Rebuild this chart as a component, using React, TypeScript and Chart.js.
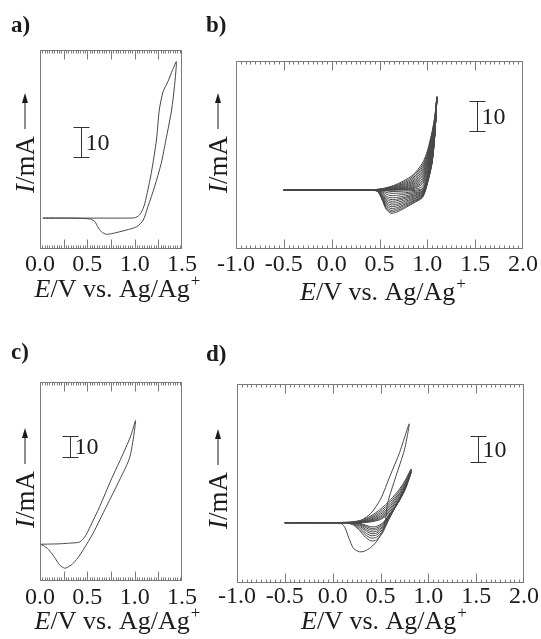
import React, { useEffect, useRef } from "react";
import { Chart, registerables } from "chart.js";

Chart.register(...registerables);

const PAGE_W = 541;
const PAGE_H = 639;
const SERIF = '"Liberation Serif", "Times New Roman", serif';
const LINE = "#474747";
const FRAME = "#7a7a7a";
const INK = "#1c1c1c";

// ---------- Panel a (single cycle) ----------
const aForwardE = [0.03, 0.3, 0.6, 0.9, 1.0, 1.05, 1.09, 1.12, 1.175, 1.23, 1.26, 1.3, 1.35, 1.4, 1.44];
const aForwardI = [0, 0, 0, 0, 0.1, 1.0, 3.2, 6.6, 14.9, 26.0, 36.0, 42.1, 45.4, 49.3, 52.1];
const aReverseE = [1.42, 1.39, 1.33, 1.28, 1.21, 1.14, 1.09, 1.02, 0.91, 0.77, 0.7, 0.65, 0.61, 0.58, 0.53, 0.28, 0.03];
const aReverseI = [43.8, 36.0, 26.0, 18.2, 10.4, 3.8, -0.7, -2.9, -4.0, -5.1, -5.4, -4.6, -2.9, -1.2, -0.3, 0, 0];

// ---------- Panel b (13 cycles) ----------
const bForwardE = [-0.5, 0.3, 0.45, 0.55, 0.65, 0.75, 0.85, 0.95, 1.0, 1.05, 1.08, 1.1];
const bReverseE = [1.08, 1.05, 1.0, 0.95, 0.85, 0.75, 0.68, 0.62, 0.57, 0.53, 0.48, 0.4, -0.5];
const bForwardI = [
  [0, 0, 0.1, 0.6, 1.5, 3.0, 5.0, 9.0, 13.0, 19.5, 25, 31],
  [0, 0, 0.1, 0.5, 1.3, 2.6, 4.5, 8.3, 12.3, 19.0, 24.6, 31],
  [0, 0, 0.05, 0.4, 1.1, 2.2, 4.0, 7.6, 11.6, 18.5, 24.3, 31],
  [0, 0, 0, 0.3, 0.9, 1.9, 3.5, 7.0, 11.0, 18.0, 24.0, 31],
  [0, 0, 0, 0.2, 0.7, 1.6, 3.0, 6.3, 10.3, 17.4, 23.6, 31],
  [0, 0, 0, 0.15, 0.5, 1.3, 2.6, 5.7, 9.6, 16.9, 23.2, 31],
  [0, 0, 0, 0.1, 0.4, 1.0, 2.2, 5.0, 9.0, 16.3, 22.8, 31],
  [0, 0, 0, 0.05, 0.3, 0.8, 1.8, 4.4, 8.3, 15.7, 22.4, 31],
  [0, 0, 0, 0, 0.2, 0.6, 1.4, 3.8, 7.6, 15.0, 22, 31],
  [0, 0, 0, 0, 0.1, 0.4, 1.0, 3.2, 7.0, 14.3, 21.5, 31],
  [0, 0, 0, 0, 0.05, 0.25, 0.7, 2.6, 6.3, 13.6, 21, 31],
  [0, 0, 0, 0, 0, 0.1, 0.45, 2.0, 5.6, 12.8, 20.5, 31],
  [0, 0, 0, 0, 0, 0, 0.1, 1.2, 5.0, 12, 20, 31],
];
const bReverseI = [
  [19, 9, 2.0, -2.5, -4.5, -6.3, -7.4, -7.8, -6.5, -3.5, -0.5, 0, 0],
  [19.1, 9.2, 2.2, -2.3, -4.2, -5.9, -6.9, -7.3, -6.1, -3.2, -0.5, 0, 0],
  [19.2, 9.4, 2.4, -2.1, -3.9, -5.4, -6.4, -6.8, -5.6, -3.0, -0.4, 0, 0],
  [19.3, 9.6, 2.6, -1.9, -3.6, -5.0, -5.9, -6.2, -5.1, -2.7, -0.4, 0, 0],
  [19.4, 9.8, 2.8, -1.6, -3.2, -4.5, -5.3, -5.6, -4.6, -2.4, -0.3, 0, 0],
  [19.5, 10, 3.0, -1.4, -2.9, -4.0, -4.8, -5.0, -4.1, -2.1, -0.3, 0, 0],
  [19.6, 10.2, 3.2, -1.2, -2.5, -3.5, -4.2, -4.4, -3.6, -1.8, -0.2, 0, 0],
  [19.6, 10.4, 3.3, -0.9, -2.1, -3.0, -3.6, -3.8, -3.1, -1.5, -0.2, 0, 0],
  [19.7, 10.5, 3.5, -0.7, -1.8, -2.6, -3.1, -3.2, -2.6, -1.2, -0.1, 0, 0],
  [19.8, 10.6, 3.6, -0.4, -1.4, -2.1, -2.5, -2.6, -2.1, -0.9, -0.1, 0, 0],
  [19.8, 10.8, 3.8, -0.2, -1.0, -1.5, -1.8, -1.9, -1.4, -0.6, 0, 0, 0],
  [19.9, 10.9, 3.9, 0.2, -0.6, -1.0, -1.1, -1.1, -0.8, -0.3, 0, 0, 0],
  [20, 11, 4.0, 0.5, -0.2, -0.4, -0.5, -0.5, -0.3, -0.1, 0, 0, 0],
];

// ---------- Panel c (single cycle) ----------
const cForwardE = [0.0, 0.1, 0.2, 0.3, 0.42, 0.48, 0.53, 0.63, 0.75, 0.88, 0.96, 1.01];
const cForwardI = [0, 0.1, 0.2, 0.5, 1.1, 4.0, 8.4, 17.9, 30.6, 43.3, 51.8, 58.9];
const cReverseE = [0.95, 0.84, 0.7, 0.56, 0.456, 0.4, 0.34, 0.29, 0.26, 0.21, 0.15, 0.09, 0.035, 0.0];
const cReverseI = [41.7, 30.6, 17.9, 5.2, -2.7, -6.5, -9.5, -11.0, -11.4, -10.0, -6.0, -2.5, -0.6, 0];

// ---------- Panel d (first cycle + 8 later cycles) ----------
const dFirstForwardE = [-0.5, 0.0, 0.2, 0.3, 0.4, 0.5, 0.6, 0.7, 0.8];
const dFirstForwardI = [0, 0, 0.3, 1.0, 3.6, 9.0, 18.0, 27.0, 38.0];
const dFirstReverseE = [0.75, 0.66, 0.575, 0.54, 0.47, 0.4, 0.33, 0.28, 0.22, 0.17, 0.13, 0.09, 0.0, -0.5];
const dFirstReverseI = [28, 17.7, 7.5, -1.5, -6.7, -9.5, -11.0, -11.2, -10.0, -6.0, -2.0, -0.3, 0, 0];
const dForwardE = [-0.5, 0.0, 0.2, 0.3, 0.4, 0.5, 0.6, 0.7, 0.76, 0.82];
const dReverseE = [0.76, 0.7, 0.64, 0.58, 0.52, 0.46, 0.4, 0.34, 0.28, 0.22, 0.15, 0.0, -0.5];
const dForwardI = [
  [0, 0, 0.2, 0.9, 2.6, 5.2, 8.6, 13.0, 16.4, 20.6],
  [0, 0, 0.1, 0.7, 2.1, 4.5, 7.8, 12.3, 15.8, 20.4],
  [0, 0, 0.1, 0.5, 1.7, 3.8, 7.0, 11.6, 15.2, 20.2],
  [0, 0, 0, 0.4, 1.3, 3.2, 6.3, 11.0, 14.7, 20.0],
  [0, 0, 0, 0.3, 1.0, 2.6, 5.6, 10.4, 14.2, 19.8],
  [0, 0, 0, 0.2, 0.7, 2.1, 5.0, 9.8, 13.7, 19.6],
  [0, 0, 0, 0.1, 0.5, 1.6, 4.4, 9.2, 13.2, 19.4],
  [0, 0, 0, 0, 0.3, 1.2, 3.8, 8.7, 12.8, 19.2],
];
const dReverseI = [
  [14.2, 9.3, 5.0, 0.6, -4.0, -6.6, -7.0, -5.5, -3.0, -1.0, -0.2, 0, 0],
  [14.0, 9.2, 5.0, 1.0, -3.3, -5.6, -5.9, -4.6, -2.4, -0.7, -0.1, 0, 0],
  [13.9, 9.1, 5.0, 1.3, -2.6, -4.7, -5.0, -3.8, -1.8, -0.5, 0, 0, 0],
  [13.8, 9.0, 5.1, 1.6, -2.0, -4.0, -4.2, -3.0, -1.3, -0.3, 0, 0, 0],
  [13.7, 8.9, 5.1, 1.9, -1.5, -3.3, -3.5, -2.4, -0.9, -0.2, 0, 0, 0],
  [13.6, 8.8, 5.2, 2.1, -1.0, -2.6, -2.8, -1.8, -0.6, -0.1, 0, 0, 0],
  [13.5, 8.7, 5.2, 2.3, -0.6, -2.0, -2.2, -1.3, -0.4, 0, 0, 0, 0],
  [13.4, 8.6, 5.3, 2.5, -0.2, -1.4, -1.6, -0.9, -0.2, 0, 0, 0, 0],
];

// ---------- Tick labels and texts ----------
const shortTickValues = [0, 0.5, 1.0, 1.5];
const shortTickLabels = ["0.0", "0.5", "1.0", "1.5"];
const wideTickValues = [-1.0, -0.5, 0, 0.5, 1.0, 1.5, 2.0];
const wideTickLabels = ["-1.0", "-0.5", "0.0", "0.5", "1.0", "1.5", "2.0"];
const xTitleItalic = "E";
const xTitleRest = "/V vs. Ag/Ag";
const xTitleSup = "+";
const yTitleItalic = "I";
const yTitleRest = "/mA";
const scaleBarLabel = "10";
const scaleBarSpan = 10;
const panelLetters = ["a)", "b)", "c)", "d)"];

type Pt = { x: number; y: number };
function loop(fE: number[], fI: number[], rE: number[], rI: number[]): Pt[] {
  return [...fE.map((x, i) => ({ x, y: fI[i] })), ...rE.map((x, i) => ({ x, y: rI[i] }))];
}

type Spec = {
  letter: string;
  letterPos: [number, number];
  loops: Pt[][];
  xMin: number;
  xMax: number;
  yMin: number;
  yMax: number;
  pad: { left: number; top: number; right: number; bottom: number };
  major: number;
  minor: number;
  tickValues: number[];
  tickLabels: string[];
  tickBaseline: number;
  titleBaseline: number;
  titleShift: number;
  yTitle: [number, number];
  bar: [number, number];
};

const specs: Spec[] = [
  {
    letter: panelLetters[0],
    letterPos: [11, 32],
    loops: [loop(aForwardE, aForwardI, aReverseE, aReverseI)],
    xMin: 0, xMax: 1.5, yMin: -10.3, yMax: 56,
    pad: { left: 40, top: 50, right: PAGE_W - 182, bottom: PAGE_H - 249 },
    major: 0.25, minor: 0.025,
    tickValues: shortTickValues, tickLabels: shortTickLabels,
    tickBaseline: 271, titleBaseline: 297, titleShift: 6,
    yTitle: [25, 143],
    bar: [0.43, 20.3],
  },
  {
    letter: panelLetters[1],
    letterPos: [206, 32],
    loops: bForwardI.map((f, k) => loop(bForwardE, f, bReverseE, bReverseI[k])),
    xMin: -1, xMax: 2, yMin: -19.7, yMax: 43,
    pad: { left: 236, top: 61, right: PAGE_W - 523, bottom: PAGE_H - 249 },
    major: 0.5, minor: 0.05,
    tickValues: wideTickValues, tickLabels: wideTickLabels,
    tickBaseline: 271, titleBaseline: 300, titleShift: 3,
    yTitle: [218, 143],
    bar: [1.52, 19.8],
  },
  {
    letter: panelLetters[2],
    letterPos: [11, 359],
    loops: [loop(cForwardE, cForwardI, cReverseE, cReverseI)],
    xMin: 0, xMax: 1.5, yMin: -17.5, yMax: 77.3,
    pad: { left: 40, top: 382, right: PAGE_W - 182, bottom: PAGE_H - 581 },
    major: 0.25, minor: 0.025,
    tickValues: shortTickValues, tickLabels: shortTickLabels,
    tickBaseline: 604, titleBaseline: 629, titleShift: 6,
    yTitle: [25, 478],
    bar: [0.32, 41.7],
  },
  {
    letter: panelLetters[3],
    letterPos: [206, 361],
    loops: [
      loop(dFirstForwardE, dFirstForwardI, dFirstReverseE, dFirstReverseI),
      ...dForwardI.map((f, k) => loop(dForwardE, f, dReverseE, dReverseI[k])),
    ],
    xMin: -1, xMax: 2, yMin: -23.2, yMax: 53.3,
    pad: { left: 237, top: 384, right: PAGE_W - 524, bottom: PAGE_H - 583 },
    major: 0.5, minor: 0.05,
    tickValues: wideTickValues, tickLabels: wideTickLabels,
    tickBaseline: 603, titleBaseline: 629, titleShift: 3,
    yTitle: [218, 479],
    bar: [1.52, 23.5],
  },
];

function decorPlugin(s: Spec) {
  return {
    id: "decor" + s.letter.replace(")", ""),
    afterDraw(chart: any) {
      const ctx: CanvasRenderingContext2D = chart.ctx;
      const ca = chart.chartArea;
      const xs = chart.scales.x;
      const ys = chart.scales.y;
      ctx.save();
      // frame
      const L = Math.round(ca.left) + 0.5;
      const R = Math.round(ca.right) - 0.5;
      const T = Math.round(ca.top) + 0.5;
      const B = Math.round(ca.bottom) - 0.5;
      ctx.strokeStyle = FRAME;
      ctx.lineWidth = 1;
      ctx.strokeRect(L, T, R - L, B - T);
      // inward ticks top & bottom
      const n = Math.round((s.xMax - s.xMin) / s.minor);
      const per = Math.round(s.major / s.minor);
      ctx.beginPath();
      for (let i = 1; i < n; i++) {
        const v = s.xMin + i * s.minor;
        const px = Math.round(xs.getPixelForValue(v)) + 0.5;
        const len = i % per === 0 ? 9 : 3;
        ctx.moveTo(px, T);
        ctx.lineTo(px, T + len);
        ctx.moveTo(px, B);
        ctx.lineTo(px, B - len);
      }
      ctx.stroke();

      ctx.fillStyle = INK;
      // tick labels
      ctx.font = `24px ${SERIF}`;
      ctx.textAlign = "center";
      ctx.textBaseline = "alphabetic";
      s.tickValues.forEach((v, i) => {
        ctx.fillText(s.tickLabels[i], xs.getPixelForValue(v), s.tickBaseline);
      });

      // x title
      const fItal = `italic 26px ${SERIF}`;
      const fReg = `26px ${SERIF}`;
      const fSup = `17px ${SERIF}`;
      ctx.textAlign = "left";
      ctx.font = fItal;
      const w1 = ctx.measureText(xTitleItalic).width;
      ctx.font = fReg;
      const w2 = ctx.measureText(xTitleRest).width;
      ctx.font = fSup;
      const w3 = ctx.measureText(xTitleSup).width;
      const cx = (ca.left + ca.right) / 2 + s.titleShift;
      let x0 = cx - (w1 + w2 + w3) / 2;
      ctx.font = fItal;
      ctx.fillText(xTitleItalic, x0, s.titleBaseline);
      x0 += w1;
      ctx.font = fReg;
      ctx.fillText(xTitleRest, x0, s.titleBaseline);
      x0 += w2;
      ctx.font = fSup;
      ctx.fillText(xTitleSup, x0 + 1, s.titleBaseline - 11);

      // y title (rotated) with arrow
      const fYItal = `italic 27px ${SERIF}`;
      const fYReg = `27px ${SERIF}`;
      ctx.save();
      ctx.translate(s.yTitle[0], s.yTitle[1]);
      ctx.rotate(-Math.PI / 2);
      ctx.font = fYItal;
      const v1 = ctx.measureText(yTitleItalic).width;
      ctx.font = fYReg;
      const v2 = ctx.measureText(yTitleRest).width;
      const gap = 7;
      const arrowLen = 36;
      let y0 = -(v1 + v2 + gap + arrowLen) / 2;
      const base = 9;
      ctx.font = fYItal;
      ctx.fillText(yTitleItalic, y0, base);
      y0 += v1;
      ctx.font = fYReg;
      ctx.fillText(yTitleRest, y0, base);
      y0 += v2 + gap;
      ctx.strokeStyle = INK;
      ctx.lineWidth = 1;
      ctx.beginPath();
      ctx.moveTo(y0, 0);
      ctx.lineTo(y0 + arrowLen - 6, 0);
      ctx.stroke();
      ctx.beginPath();
      ctx.moveTo(y0 + arrowLen, 0);
      ctx.lineTo(y0 + arrowLen - 10, -3);
      ctx.lineTo(y0 + arrowLen - 10, 3);
      ctx.closePath();
      ctx.fill();
      ctx.restore();

      // scale bar
      const bx = Math.round(xs.getPixelForValue(s.bar[0])) + 0.5;
      const by1 = Math.round(ys.getPixelForValue(s.bar[1])) + 0.5;
      const by2 = Math.round(ys.getPixelForValue(s.bar[1] + scaleBarSpan)) + 0.5;
      ctx.strokeStyle = "#333";
      ctx.lineWidth = 1;
      ctx.beginPath();
      ctx.moveTo(bx, by1);
      ctx.lineTo(bx, by2);
      ctx.moveTo(bx - 8, by1);
      ctx.lineTo(bx + 8, by1);
      ctx.moveTo(bx - 8, by2);
      ctx.lineTo(bx + 8, by2);
      ctx.stroke();
      ctx.font = `24px ${SERIF}`;
      ctx.textBaseline = "middle";
      ctx.fillText(scaleBarLabel, bx + 4, (by1 + by2) / 2 + 1);

      // panel letter
      ctx.textBaseline = "alphabetic";
      ctx.font = `bold 23px ${SERIF}`;
      ctx.fillText(s.letter, s.letterPos[0], s.letterPos[1]);
      ctx.restore();
    },
  };
}

function Panel({ spec }: { spec: Spec }) {
  const ref = useRef<HTMLCanvasElement | null>(null);
  useEffect(() => {
    const canvas = ref.current;
    if (!canvas) return;
    const chart = new Chart(canvas, {
      type: "line",
      data: {
        datasets: spec.loops.map((pts) => ({
          data: pts,
          borderColor: LINE,
          borderWidth: 1,
          pointRadius: 0,
          tension: 0.25,
          fill: false,
        })),
      },
      options: {
        responsive: false,
        animation: false,
        devicePixelRatio: 1,
        events: [],
        layout: { padding: spec.pad },
        plugins: { legend: { display: false }, tooltip: { enabled: false } },
        scales: {
          x: { type: "linear", min: spec.xMin, max: spec.xMax, display: false },
          y: { type: "linear", min: spec.yMin, max: spec.yMax, display: false },
        },
      },
      plugins: [decorPlugin(spec)],
    } as any);
    return () => chart.destroy();
  }, [spec]);
  return (
    <canvas
      ref={ref}
      width={PAGE_W}
      height={PAGE_H}
      style={{ position: "absolute", left: 0, top: 0, width: PAGE_W, height: PAGE_H }}
    />
  );
}

export default function App() {
  return (
    <div
      style={{
        position: "absolute",
        left: 0,
        top: 0,
        width: PAGE_W,
        height: PAGE_H,
        background: "#ffffff",
        overflow: "hidden",
      }}
    >
      {specs.map((s) => (
        <Panel key={s.letter} spec={s} />
      ))}
    </div>
  );
}
